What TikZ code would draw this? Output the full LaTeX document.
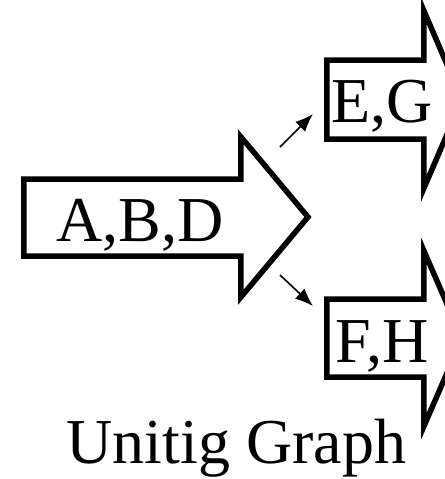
\documentclass[tikz,border=0pt]{standalone}
\usepackage{fontspec}
\setmainfont{Liberation Serif}
\usepackage{tikz}
\usetikzlibrary{arrows.meta,positioning,calc}

\begin{document}
\begin{tikzpicture}[x=0.5pt,y=-0.5pt,>=Latex,
    every node/.style={font=\fontsize{32}{38}\selectfont, inner sep=0pt},
    fatarrow/.style={draw=black, fill=white, line width=2.75pt, line join=miter},
    link/.style={-{Latex[length=9pt,width=7pt]}, line width=0.8pt}]
        \useasboundingbox (0,0) rectangle (445,479);

        % big arrow and the two branch arrows
        \draw[fatarrow] (24,179) -- (241,179) -- (241,137) -- (308,217) -- (241,297) -- (241,256) -- (24,256) -- cycle;
        \draw[fatarrow] (327,60) -- (424,60) -- (424,11) -- (462,99.5) -- (424,188) -- (424,139) -- (327,139) -- cycle;
        \draw[fatarrow] (327,299) -- (424,299) -- (424,251) -- (462,338.5) -- (424,426) -- (424,377) -- (327,377) -- cycle;

        \node[anchor=base] (abd) at (140,241) {A,B,D};
        \node[anchor=base] (eg) at (382,122) {E,G};
        \node[anchor=base] (fh) at (382,362) {F,H};
        \node[anchor=base] (title) at (236.5,463) {Unitig Graph};

        % branch links
        \coordinate (up from) at (280,147);
        \coordinate (up to) at (313,114);
        \coordinate (down from) at (280,275);
        \coordinate (down to) at (313,306);
        \draw[link] (up from) -- (up to);
        \draw[link] (down from) -- (down to);
    \end{tikzpicture}
\end{document}
